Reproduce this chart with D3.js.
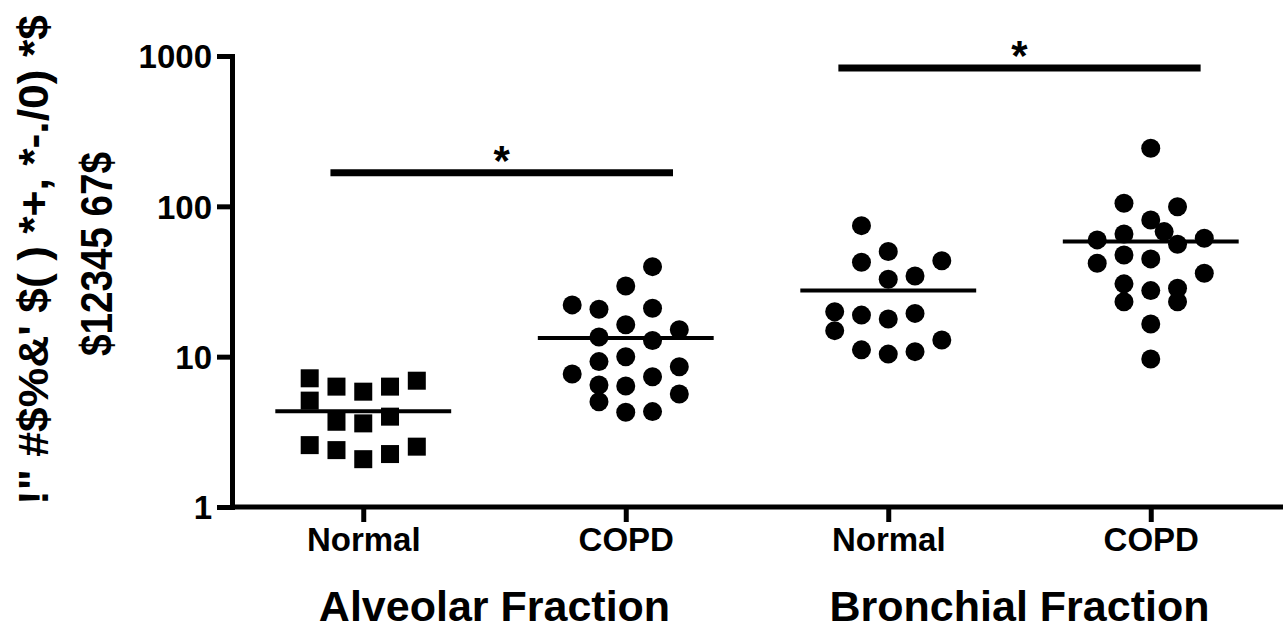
<!DOCTYPE html>
<html>
<head>
<meta charset="utf-8">
<style>
  body { margin: 0; background: #fff; }
  text { font-family: "Liberation Sans", Arial, sans-serif; font-weight: bold; fill: #000; }
</style>
</head>
<body>
<svg width="1283" height="631"></svg>
<script src="https://d3js.org/d3.v7.min.js"></script>
<script>
// groups along the x axis
var categories = ["Normal", "COPD", "Normal", "COPD"];
var fractions = ["Alveolar Fraction", "Bronchial Fraction"];
var yTicks = [1, 10, 100, 1000];
var yLabelLines = ["!\" #$%&' $( ) *+, *-./0) *$", "$12345 67$"];

// values, with the scatter column each point sits in
var alvNormal     = [7.18, 6.32, 5.85, 6.32, 6.92, 5.10, 3.69, 3.60, 3.99, 2.58, 2.39, 2.08, 2.25, 2.52];
var alvNormalSlot = [-2, -1, 0, 1, 2, -2, -1, 0, 1, -2, -1, 0, 1, 2];

var alvCopd     = [39.7, 29.5, 22.1, 20.7, 21.0, 16.3, 13.5, 12.8, 15.1, 7.67, 9.27, 10.0, 8.58, 7.36, 6.48, 6.38, 5.65, 5.02, 4.27, 4.31];
var alvCopdSlot = [1, 0, -2, -1, 1, 0, -1, 1, 2, -2, -1, 0, 2, 1, -1, 0, 2, -1, 0, 1];

var bronNormal     = [74.4, 42.5, 50.0, 43.5, 32.7, 34.4, 19.9, 14.9, 18.9, 17.8, 19.4, 12.9, 11.1, 10.4, 10.8];
var bronNormalSlot = [-1, -1, 0, 2, 0, 1, -2, -2, -1, 0, 1, 2, -1, 0, 1];

var bronCopd     = [243.6, 104.9, 99.5, 81.2, 67.9, 59.8, 65.5, 55.9, 61.3, 41.8, 47.5, 44.7, 35.9, 30.5, 23.2, 27.5, 28.5, 23.2, 16.5, 9.66];
var bronCopdSlot = [0, -1, 1, 0, 0.5, -2, -1, 1, 2, -2, -1, 0, 2, -1, -1, 0, 1, 1, 0, 0];

var groups = [
  { values: alvNormal,  slots: alvNormalSlot,  shape: "square" },
  { values: alvCopd,    slots: alvCopdSlot,    shape: "circle" },
  { values: bronNormal, slots: bronNormalSlot, shape: "circle" },
  { values: bronCopd,   slots: bronCopdSlot,   shape: "circle" }
];

// significance bars: from/to in group units, y in data units
var sigBars = [
  { from: -0.125, to: 1.18, y: 167, label: "*" },
  { from: 1.81,   to: 3.19, y: 833, label: "*" }
];

var svg = d3.select("svg");

var x = d3.scaleLinear().domain([-0.5, 3.5]).range([232, 1282]);
var y = d3.scaleLog().domain([1, 1000]).range([507, 56]);
var slotStep = 0.102;   // one scatter column, in group units
var meanHalf = 0.335;

// y axis
var yAxis = svg.append("g")
    .attr("transform", "translate(" + x(-0.5) + ",0)")
    .call(d3.axisLeft(y).tickValues(yTicks).tickFormat(d3.format("d"))
      .tickSize(15).tickSizeOuter(0).tickPadding(5));
yAxis.selectAll("line, path").attr("stroke", "#000").attr("stroke-width", 5);
yAxis.select(".domain").attr("stroke-linecap", "square");
yAxis.selectAll("text").style("font-size", "33px").attr("fill", "#000").attr("dy", "0.36em");

// x axis
var xAxis = svg.append("g")
    .attr("transform", "translate(0," + y(1) + ")")
    .call(d3.axisBottom(x).tickValues(d3.range(categories.length))
      .tickFormat(function(i) { return categories[i]; })
      .tickSize(15).tickSizeOuter(0).tickPadding(6));
xAxis.selectAll("line, path").attr("stroke", "#000").attr("stroke-width", 5);
xAxis.select(".domain").attr("d", "M" + (x(-0.5) - 2) + ",0H1283");
xAxis.selectAll("text").style("font-size", "33px").attr("fill", "#000");

// fraction titles
svg.selectAll(".frac").data(fractions).enter().append("text")
    .attr("class", "frac")
    .attr("x", function(d, i) { return x(i * 2 + 0.5); })
    .attr("y", 621)
    .attr("text-anchor", "middle")
    .style("font-size", "43px")
    .text(function(d) { return d; });

// y label (two rotated lines)
var yLab = [
  { x: 48, cy: 260, len: 490, size: 42 },
  { x: 112, cy: 254, len: 204, size: 44 }
];
svg.selectAll(".ylab").data(yLabelLines).enter().append("text")
    .attr("class", "ylab")
    .attr("transform", function(d, i) { return "translate(" + yLab[i].x + "," + yLab[i].cy + ") rotate(-90)"; })
    .attr("text-anchor", "middle")
    .attr("textLength", function(d, i) { return yLab[i].len; })
    .attr("lengthAdjust", "spacingAndGlyphs")
    .style("font-size", function(d, i) { return yLab[i].size + "px"; })
    .text(function(d) { return d; });

// points
groups.forEach(function(g, gi) {
  var pts = g.values.map(function(v, i) { return { v: v, cx: x(gi + g.slots[i] * slotStep), cy: y(v) }; });
  if (g.shape === "square") {
    svg.append("g").selectAll("rect").data(pts).enter().append("rect")
        .attr("x", function(d) { return d.cx - 9; })
        .attr("y", function(d) { return d.cy - 9; })
        .attr("width", 18).attr("height", 18)
        .attr("fill", "#000");
  } else {
    svg.append("g").selectAll("circle").data(pts).enter().append("circle")
        .attr("cx", function(d) { return d.cx; })
        .attr("cy", function(d) { return d.cy; })
        .attr("r", 9.5)
        .attr("fill", "#000");
  }
  var m = d3.mean(g.values);
  svg.append("line")
      .attr("x1", x(gi - meanHalf)).attr("x2", x(gi + meanHalf))
      .attr("y1", y(m)).attr("y2", y(m))
      .attr("stroke", "#000").attr("stroke-width", 4);
});

// significance bars
sigBars.forEach(function(b) {
  svg.append("line")
      .attr("x1", x(b.from)).attr("x2", x(b.to))
      .attr("y1", y(b.y)).attr("y2", y(b.y))
      .attr("stroke", "#000").attr("stroke-width", 7);
  svg.append("text")
      .attr("x", x((b.from + b.to) / 2))
      .attr("y", y(b.y) + 2)
      .attr("text-anchor", "middle")
      .style("font-size", "42px")
      .text(b.label);
});
</script>
</body>
</html>
